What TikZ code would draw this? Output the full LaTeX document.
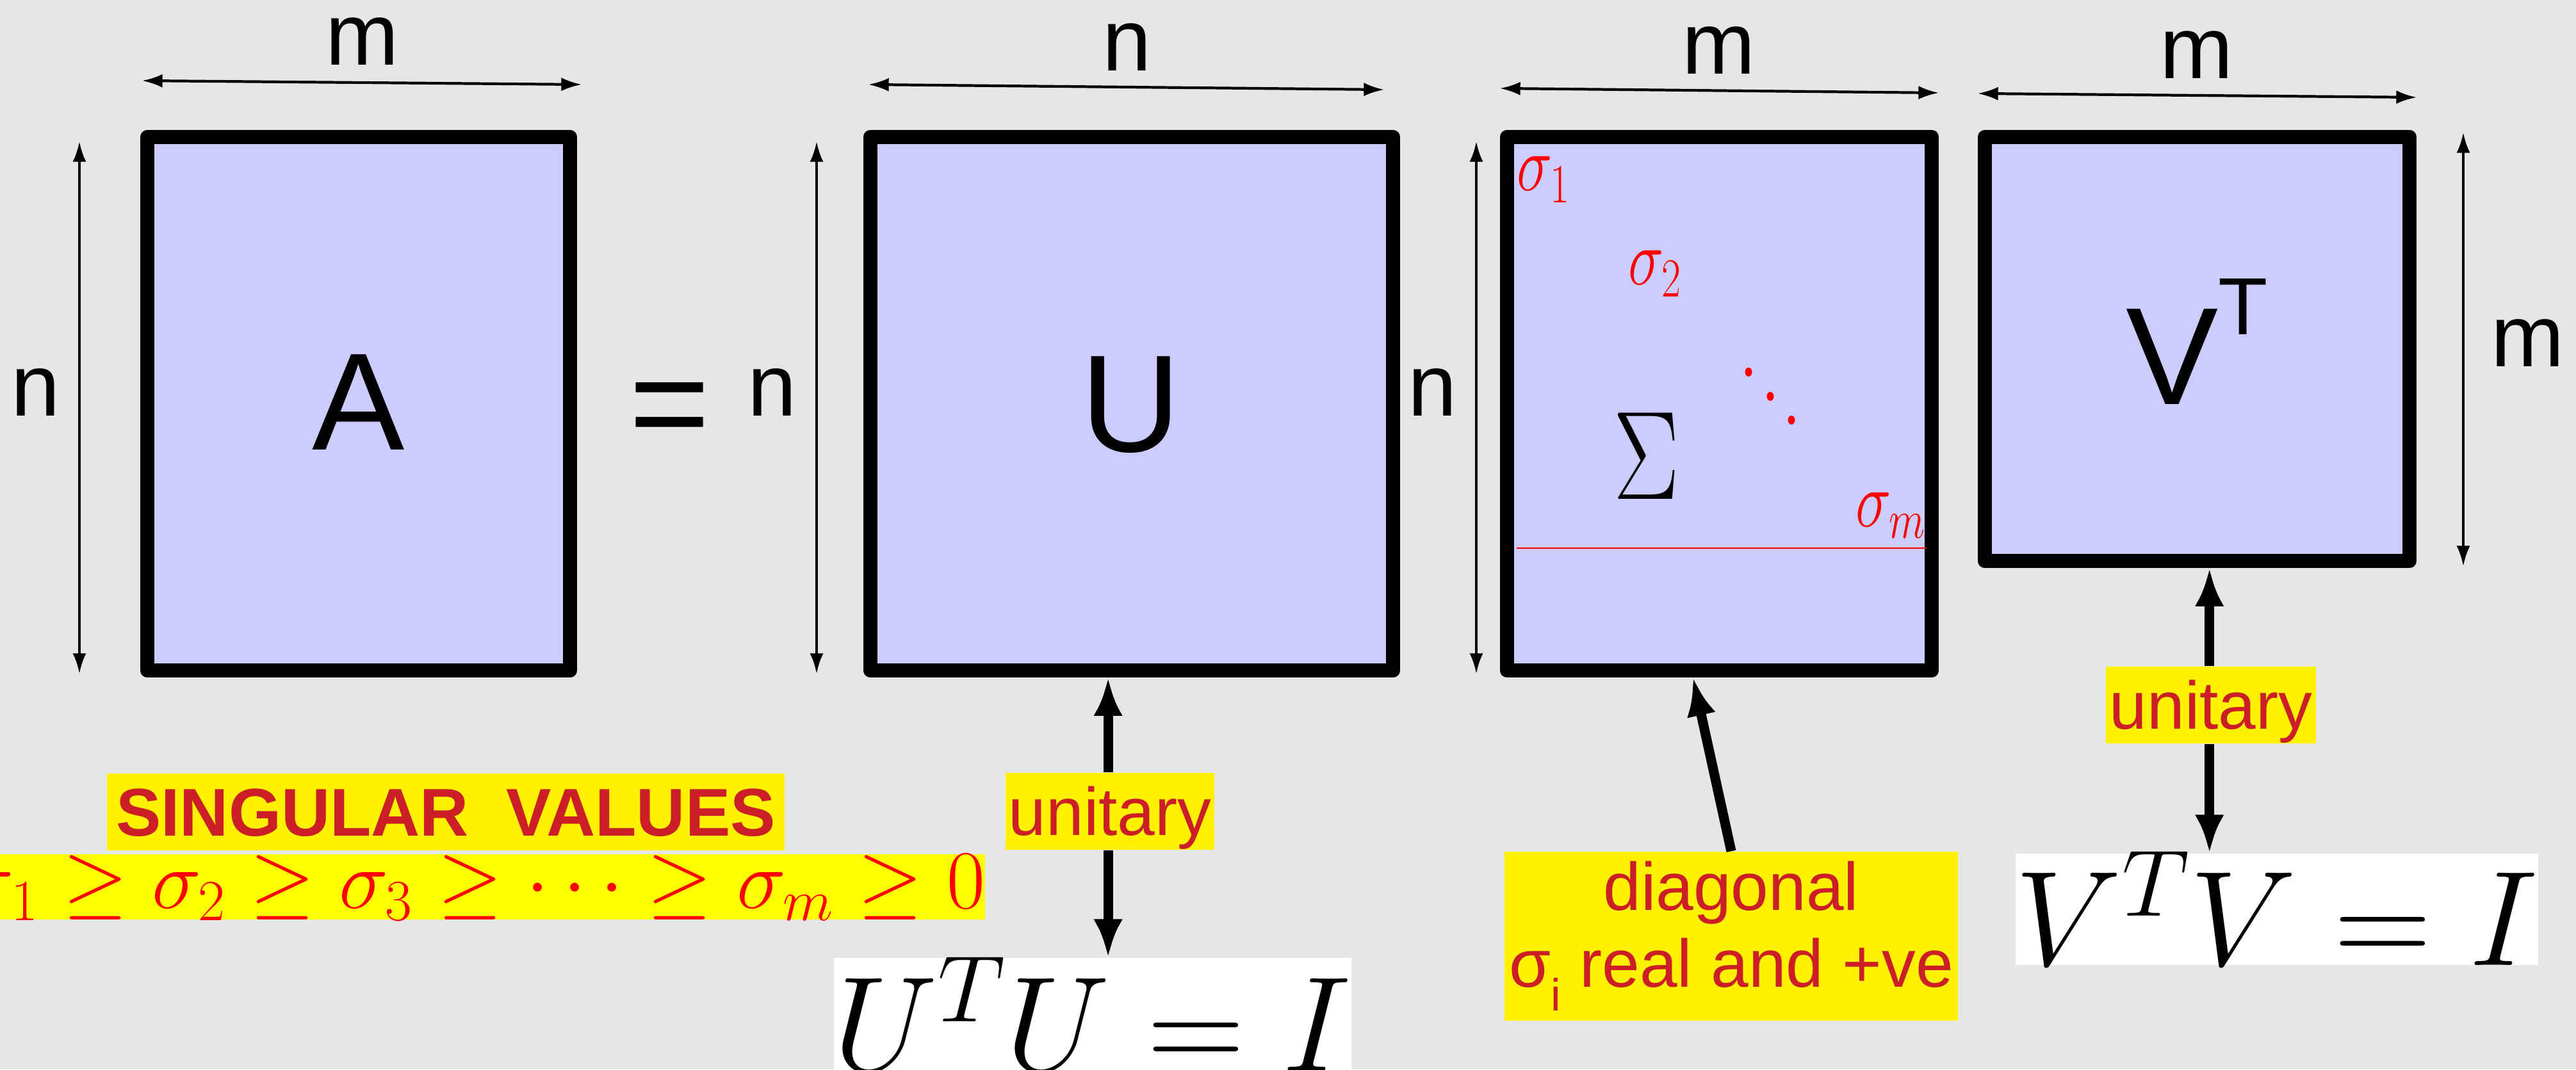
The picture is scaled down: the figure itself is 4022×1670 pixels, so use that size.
\RequirePackage{fix-cm}
\documentclass[tikz,border=0pt]{standalone}
\usepackage[no-math]{fontspec}
\usepackage{graphicx}
\newfontfamily\lsans{Liberation Sans}
\usetikzlibrary{arrows.meta,calc}
\definecolor{bg}{RGB}{230,230,230}
\definecolor{boxfill}{RGB}{204,204,255}
\definecolor{ylw}{RGB}{255,242,0}
\definecolor{ylwb}{RGB}{255,255,0}
\definecolor{dred}{RGB}{204,30,38}
\begin{document}
\begin{tikzpicture}[x=0.01cm,y=-0.01cm,
  mat/.style={draw=black, line width=6.2pt, line join=round, fill=boxfill, inner sep=0pt},
  dimarrow/.style={line width=1.2pt, {Latex[length=9pt,width=6pt]}-{Latex[length=9pt,width=6pt]}},
  bigarrow/.style={line width=4.3pt, -{Latex[length=17pt,width=13pt]}},
  lbl/.style={font=\lsans\fontsize{39}{39}\selectfont, inner sep=0pt, anchor=base},
  bigtxt/.style={font=\lsans\fontsize{61.5}{62}\selectfont, inner sep=0pt, anchor=base},
  note/.style={fill=ylw, text=dred, font=\lsans\fontsize{30}{34}\selectfont, inner ysep=0pt, inner xsep=0.05cm, anchor=base, text height=0.97cm, text depth=0.23cm},
  sig/.style={text=red, inner sep=0pt},
]
\useasboundingbox (0,0) rectangle (4022,1670);
\fill[bg] (0,0) rectangle (4022,1670);
\begin{scope}
\clip (0,0) rectangle (4022,1670);

% matrices
\node[mat, minimum width=6.6cm, minimum height=8.33cm] (A) at (560,630.5) {};
\node[mat, minimum width=8.16cm, minimum height=8.33cm] (U) at (1767,630.5) {};
\node[mat, minimum width=6.63cm, minimum height=8.33cm] (S) at (2684.5,630.5) {};
\node[mat, minimum width=6.63cm, minimum height=6.62cm] (V) at (3430.5,545) {};

% matrix letters
\node[bigtxt] (Atxt) at (560,702) {A};
\node[bigtxt] (eq) at (1046,703) {=};
\node[bigtxt] (Utxt) at (1766,705) {U};
\node[bigtxt] (Vtxt) at (3430,631) {V\raisebox{0.5em}{\fontsize{36}{36}\selectfont T}};
\node[inner sep=0pt, anchor=base] (Stxt) at (2571,779) {\scalebox{0.78}[1]{\fontsize{56}{56}\selectfont$\Sigma$}};

% sigma entries
\node[sig, anchor=base west] (s1) at (2368,298) {\scalebox{0.76}[1]{\fontsize{35}{35}\selectfont$\sigma_1$}};
\node[sig, anchor=base west] (s2) at (2542,445) {\scalebox{0.76}[1]{\fontsize{35}{35}\selectfont$\sigma_2$}};
\node[sig, anchor=base east] (sm) at (3008,822) {\scalebox{0.76}[1]{\fontsize{35}{35}\selectfont$\sigma_m$}};
\fill[red] (2730,581) ellipse [x radius=0.055cm, y radius=0.07cm];
\fill[red] (2764,619) ellipse [x radius=0.055cm, y radius=0.07cm];
\fill[red] (2797,656) ellipse [x radius=0.055cm, y radius=0.07cm];
\draw[red, line width=0.7pt] (2368,856) -- (3008,856);

% dimension arrows
\coordinate (mA1) at (222,126); \coordinate (mA2) at (908,132);
\coordinate (nU1) at (1356,132); \coordinate (nU2) at (2161,140);
\coordinate (mS1) at (2342,138); \coordinate (mS2) at (3027,145);
\coordinate (mV1) at (3088,146); \coordinate (mV2) at (3773,152);
\coordinate (nA1) at (124,221); \coordinate (nA2) at (124,1052);
\coordinate (nB1) at (1275,221); \coordinate (nB2) at (1275,1052);
\coordinate (nC1) at (2305,221); \coordinate (nC2) at (2305,1052);
\coordinate (mR1) at (3846,207); \coordinate (mR2) at (3846,884);
\draw[dimarrow] (mA1) -- (mA2);
\draw[dimarrow] (nU1) -- (nU2);
\draw[dimarrow] (mS1) -- (mS2);
\draw[dimarrow] (mV1) -- (mV2);
\draw[dimarrow] (nA1) -- (nA2);
\draw[dimarrow] (nB1) -- (nB2);
\draw[dimarrow] (nC1) -- (nC2);
\draw[dimarrow] (mR1) -- (mR2);

% dimension labels
\node[lbl] (lmA) at (566,102) {m};
\node[lbl] (lnU) at (1760,111) {n};
\node[lbl] (lmS) at (2684,116) {m};
\node[lbl] (lmV) at (3430,123) {m};
\node[lbl] (lmR) at (3947,572) {m};
\node[lbl] (lnA) at (56,649) {n};
\node[lbl] (lnB) at (1206,649) {n};
\node[lbl] (lnC) at (2237,649) {n};

% bottom notes
\node[note, font=\lsans\bfseries\fontsize{30}{34}\selectfont, minimum width=10.57cm] (sv) at (696,1305) {SINGULAR\ \ VALUES};
\node[fill=ylwb, text=red, inner sep=0pt, anchor=base east, text height=0.84cm, text depth=0.18cm] (ineq) at (1539,1418)
  {\fontsize{37}{37}\selectfont\thickmuskip=5.2mu$\sigma_1\geq\sigma_2\geq\sigma_3\geq\cdots\geq\sigma_m\geq0$};
\node[note, minimum width=3.26cm] (uU) at (1733,1304) {unitary};
\node[note, minimum width=3.27cm] (uV) at (3452,1138) {unitary};
\node[fill=ylw, text=dred, font=\lsans\fontsize{30}{34}\selectfont, align=center, inner sep=0pt,
      minimum width=7.08cm, minimum height=2.64cm] (dg) at (2703,1462)
  {diagonal\\σ\raisebox{-0.35em}{\fontsize{20}{20}\selectfont i} real and +ve};
\node[fill=white, inner sep=0pt, anchor=base, text height=1.76cm, text depth=0.3cm, minimum width=7.83cm] (UTU) at (1706,1672)
  {\fontsize{60}{60}\selectfont$U^TU=I$};
\node[fill=white, inner sep=0pt, anchor=base, text height=1.74cm, text depth=0cm, minimum width=7.88cm] (VTV) at (3555,1507)
  {\fontsize{60}{60}\selectfont$V^TV=I$};

% connectors
\coordinate (uA) at ($(U.south west)!0.456!(U.south east)$);
\coordinate (vA) at ($(V.south west)!0.528!(V.south east)$);
\coordinate (sA) at ($(S.south west)!0.44!(S.south east)$);
\draw[bigarrow] (uA |- uU.north) -- (uA);
\draw[bigarrow] (uA |- uU.south) -- (uA |- UTU.north);
\draw[bigarrow] (vA |- uV.north) -- (vA);
\draw[bigarrow] (vA |- uV.south) -- (vA |- VTV.north);
\draw[bigarrow] (dg.north) -- (sA);
\end{scope}
\end{tikzpicture}
\end{document}
